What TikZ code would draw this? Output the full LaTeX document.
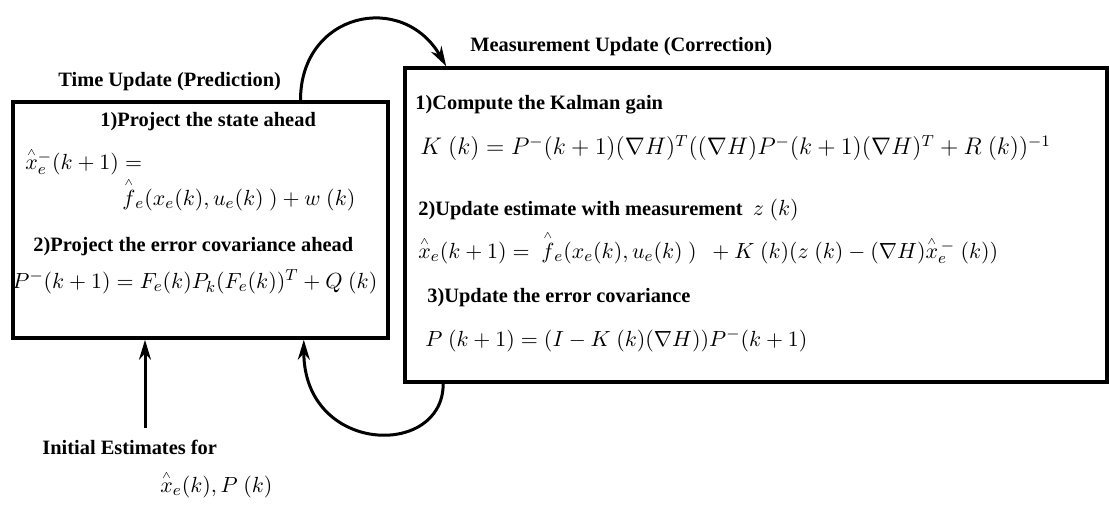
\documentclass[tikz,border=0pt]{standalone}
\usepackage{amsmath}
\usepackage{fontspec}
\setmainfont{Liberation Serif}
\usetikzlibrary{arrows.meta}
\newcommand{\hx}{\smash{\overset{\scriptscriptstyle\wedge}{x}}}
\newcommand{\hf}{\smash{\overset{\scriptscriptstyle\wedge}{f}}}
\begin{document}
\begin{tikzpicture}[x=0.5pt,y=-0.5pt,
  box/.style={draw, line width=1.8pt, inner sep=0pt},
  lbl/.style={font=\fontsize{10.2}{12}\selectfont\bfseries, inner sep=0pt, anchor=west},
  eq/.style={font=\fontsize{11}{13}\selectfont, inner sep=0pt, anchor=west},
  arr/.style={line width=1.5pt, -{Stealth[length=10pt,width=6pt]}}]
\useasboundingbox (0,0) rectangle (1109,505);
% boxes
\node[box, minimum width=187.5pt, minimum height=118pt] (tu) at (200.5,220) {};
\node[box, minimum width=351pt, minimum height=157pt] (mu) at (756,225) {};
% titles
\node[lbl] (tut) at (58,82) {Time Update (Prediction)};
\node[lbl] (mut) at (470,47) {Measurement Update (Correction)};
% left box content
\node[lbl] (p1) at (100,122) {1)Project the state ahead};
\node[eq] (e1) at (25,163) {$\hx_e^-(k+1) =$};
\node[eq] (e2) at (122,200) {$\hf_e(x_e(k), u_e(k)\ ) + w\ (k)$};
\node[lbl] (p2) at (33,247) {2)Project the error covariance ahead};
\node[eq] (e3) at (12,282) {$P^-(k+1) = F_e(k)P_k(F_e(k))^T + Q\ (k)$};
% right box content
\node[lbl] (m1) at (415,105) {1)Compute the Kalman gain};
\node[eq, font=\fontsize{12}{14}\selectfont] (e4) at (420,148) {$K\ (k) = P^-(k+1)(\nabla H)^T((\nabla H)P^-(k+1)(\nabla H)^T + R\ (k))^{-1}$};
\node[lbl] (m2) at (418,210) {2)Update estimate with measurement\ \ {\fontsize{11}{13}\selectfont\normalfont$z\ (k)$}};
\node[eq] (e5) at (418,252) {$\hx_e(k+1) = \ \hf_e(x_e(k), u_e(k)\ )\ \ + K\ (k)(z\ (k) - (\nabla H)\hx_e^{\,-}\ (k))$};
\node[lbl] (m3) at (427,298) {3)Update the error covariance};
\node[eq] (e6) at (425,340) {$P\ (k+1) = (I - K\ (k)(\nabla H))P^-(k+1)$};
% initial
\node[lbl] (ie) at (42,447) {Initial Estimates for};
\node[eq] (iv) at (160,487) {$\hx_e(k), P\ (k)$};
\coordinate (ia) at (145,428);
% connectors
\draw[arr] ([xshift=50pt]tu.north) to[out=90,in=120,looseness=1.5] ([xshift=21.5pt]mu.north west);
\draw[arr] ([xshift=20pt]mu.south west) .. controls +(0,75) and +(0,115) .. ([xshift=-43pt]tu.south east);
\draw[arr] (ia) -- (ia |- tu.south);
\end{tikzpicture}
\end{document}
